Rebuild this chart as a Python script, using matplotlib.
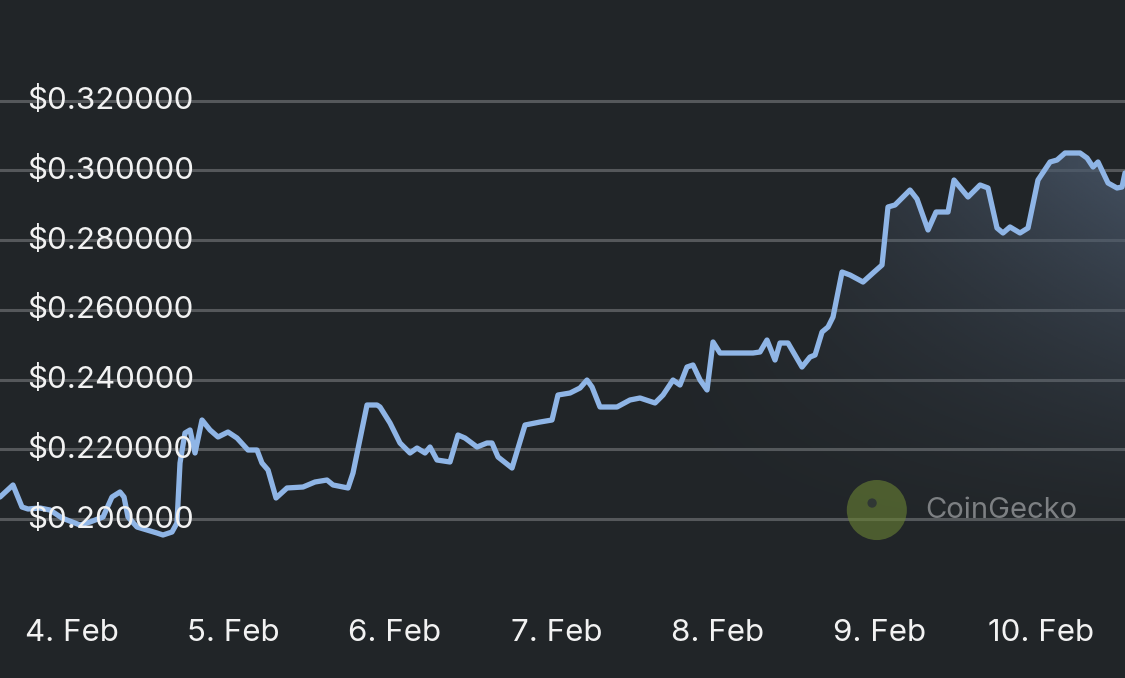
import numpy as np
import matplotlib
matplotlib.use("Agg")
import matplotlib.pyplot as plt

# hours since 4 Feb 00:00
hours = [-10.70, -8.77, -7.43, -6.54, -4.76, -3.27, -1.49, 1.19, 2.67, 4.61,
         5.94, 7.13, 7.73, 8.32, 9.66, 11.15, 12.63, 13.52, 14.86, 15.60,
         16.05, 16.79, 17.54, 18.28, 19.32, 20.51, 21.70, 23.18, 24.52, 26.15,
         27.49, 28.23, 29.13, 30.32, 31.95, 34.33, 36.11, 37.89, 38.79, 41.02,
         41.76, 43.84, 45.33, 45.77, 47.26, 48.74, 50.23, 51.27, 52.46, 53.20,
         54.24, 56.17, 57.36, 58.40, 60.19, 61.67, 62.41, 63.31, 65.39, 67.32,
         69.55, 71.33, 72.22, 74.01, 75.49, 76.53, 77.28, 78.46, 80.99, 82.92,
         84.41, 86.64, 87.83, 89.31, 90.35, 91.39, 92.28, 93.33, 94.37, 95.26,
         96.30, 98.82, 101.20, 102.24, 103.28, 104.47, 105.21, 106.40, 108.48, 109.67,
         110.42, 111.46, 112.35, 113.09, 114.43, 115.62, 117.55, 119.03, 120.37, 121.26,
         122.30, 124.53, 125.57, 127.21, 128.40, 130.18, 131.07, 133.15, 134.94, 136.12,
         137.46, 138.35, 139.39, 140.88, 142.07, 143.55, 145.34, 146.38, 147.57, 149.80,
         150.84, 151.73, 152.47, 153.96, 155.29, 156.04, 156.48]

prices = [0.20631, 0.20976, 0.20344, 0.20287, 0.20316, 0.20258, 0.20029, 0.19828, 0.19914, 0.20057,
          0.20631, 0.20775, 0.20631, 0.20057, 0.19770, 0.19684, 0.19598, 0.19541, 0.19627, 0.19885,
          0.21607, 0.22468, 0.22554, 0.21894, 0.22841, 0.22554, 0.22353, 0.22496, 0.22324, 0.21980,
          0.21980, 0.21607, 0.21406, 0.20603, 0.20890, 0.20918, 0.21062, 0.21119, 0.20976, 0.20890,
          0.21320, 0.23271, 0.23271, 0.23214, 0.22755, 0.22181, 0.21894, 0.22037, 0.21894, 0.22066,
          0.21693, 0.21636, 0.22410, 0.22324, 0.22066, 0.22181, 0.22181, 0.21779, 0.21463, 0.22697,
          0.22783, 0.22841, 0.23558, 0.23615, 0.23759, 0.23988, 0.23788, 0.23214, 0.23214, 0.23415,
          0.23472, 0.23329, 0.23558, 0.23988, 0.23845, 0.24361, 0.24419, 0.23988, 0.23702, 0.25079,
          0.24763, 0.24763, 0.24763, 0.24792, 0.25136, 0.24562, 0.25050, 0.25050, 0.24361, 0.24648,
          0.24706, 0.25366, 0.25509, 0.25796, 0.27087, 0.27001, 0.26800, 0.27059, 0.27288, 0.28953,
          0.29010, 0.29440, 0.29182, 0.28293, 0.28809, 0.28809, 0.29727, 0.29239, 0.29584, 0.29498,
          0.28350, 0.28207, 0.28379, 0.28207, 0.28350, 0.29727, 0.30244, 0.30301, 0.30502, 0.30502,
          0.30358, 0.30100, 0.30244, 0.29641, 0.29498, 0.29526, 0.29928]

y_ticks = [0.20, 0.22, 0.24, 0.26, 0.28, 0.30, 0.32]
x_ticks = [0, 24, 48, 72, 96, 120, 144]
x_labels = ["4. Feb", "5. Feb", "6. Feb", "7. Feb", "8. Feb", "9. Feb", "10. Feb"]

bg = "#212528"
line_col = "#8fb5e6"
x0, x1 = -10.70, 156.48
y0, y1 = 0.15438, 0.34892

plt.rcParams['font.family'] = ['Inter', 'DejaVu Sans']
fig = plt.figure(figsize=(11.25, 6.78), dpi=100, facecolor=bg)
ax = fig.add_axes([0, 0, 1, 1])
ax.set_facecolor(bg)
ax.set_xlim(x0, x1)
ax.set_ylim(y0, y1)
ax.axis('off')

for t in y_ticks:
    ax.axhline(t, color="#55585b", lw=2.2, zorder=1)
    ax.text(-6.7, t, "$%.6f" % t, color="#f2f2f2", fontsize=22.5,
            va="center", ha="left", zorder=4)

for t, lab in zip(x_ticks, x_labels):
    ax.text(t, 0.1673, lab, color="#f2f2f2", fontsize=22.5, ha="center", va="center")

# gradient fill under the line, strongest to the upper right
nx, ny = 400, 300
gx = np.linspace(x0, x1, nx)
gy = np.linspace(y0, y1, ny)
GX, GY = np.meshgrid(gx, gy)
ax_frac = np.clip((GX - 85) / (x1 - 85), 0, 1)
ay_frac = np.clip((GY - 0.19) / (0.30 - 0.19), 0, 1)
alpha = 0.8 * ax_frac ** 1.2 * ay_frac ** 1.3
rgba = np.zeros((ny, nx, 4))
rgba[..., 0] = 0x4a / 255
rgba[..., 1] = 0x58 / 255
rgba[..., 2] = 0x6b / 255
rgba[..., 3] = alpha
img = ax.imshow(rgba, extent=[x0, x1, y0, y1], origin="lower", aspect="auto", zorder=2)
poly = ax.fill_between(hours, prices, y0, color="none")
img.set_clip_path(poly.get_paths()[0], transform=ax.transData)

ax.plot(hours, prices, color=line_col, lw=3.8, solid_joinstyle="round",
        solid_capstyle="round", zorder=3)

# CoinGecko watermark
cx, cy = 119.6, 0.20258
ax.scatter([cx], [cy], s=1870, color="#6a8234", alpha=0.6, zorder=2.5, edgecolors="none")
ax.scatter([cx - 0.7], [cy + 0.0020], s=45, color="#2c3136", alpha=0.85, zorder=2.6,
           edgecolors="none")
ax.text(126.8, cy, "CoinGecko", color="#7d8083", fontsize=21, ha="left", va="center",
        zorder=2.5)

fig.savefig("out.png", dpi=100, facecolor=bg)
